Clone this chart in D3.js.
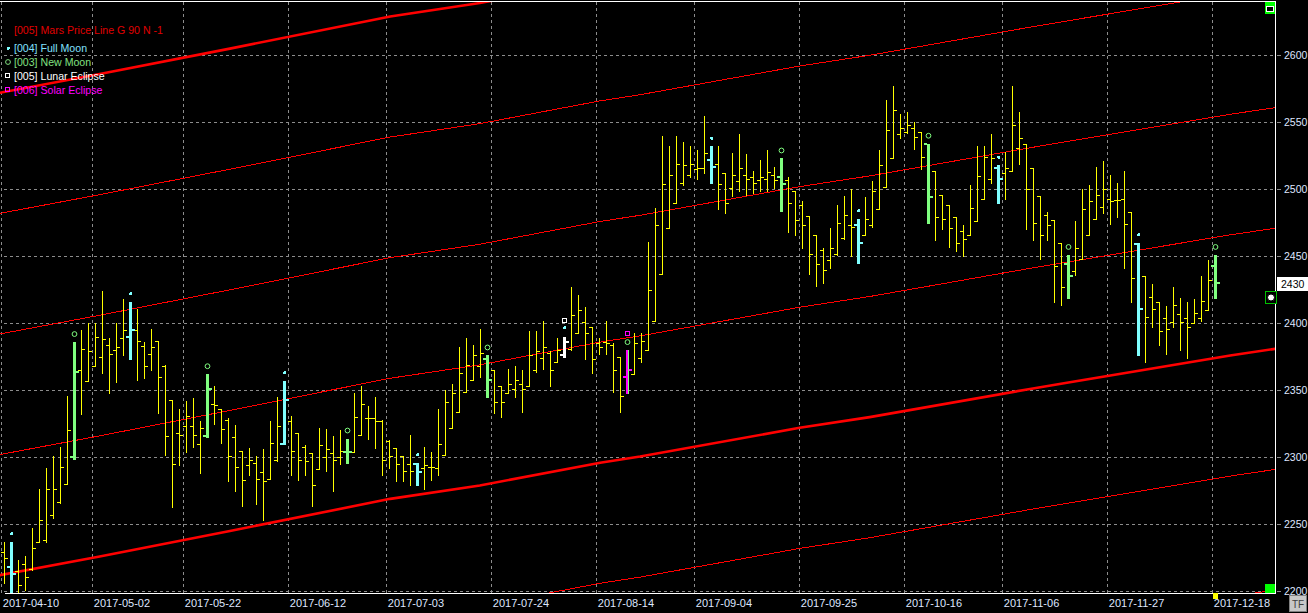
<!DOCTYPE html>
<html><head><meta charset="utf-8">
<script src="https://cdn.jsdelivr.net/npm/d3@7"></script>
<style>
html,body{margin:0;padding:0;background:#000;overflow:hidden;}
svg{display:block;}
text{font-family:"Liberation Sans",Arial,sans-serif;}
</style></head><body>
<svg id="c" width="1308" height="613"></svg>
<script>
// ---------- DATA ----------
const openP = [2229,2218,2215,2220,2217,2237,2238,2257,2267,2280,
2300,2365,2357,2368,2375,2384,2380,2389,2390,2395,
2383,2377,2387,2368,2343,2318,2323,2323,2310,2316,
2340,2336,2328,2315,2305,2294,2296,2289,2284,2298,
2310,2327,2318,2308,2303,2291,2300,2303,2300,2304,
2304,2317,2329,2329,2327,2312,2307,2301,2295,2295,
2292,2293,2292,2302,2322,2334,2349,2358,2368,2373,
2365,2353,2348,2351,2355,2353,2365,2374,2378,2371,
2376,2381,2393,2401,2397,2385,2386,2384,2375,2360,
2362,2374,2380,2402,2437,2471,2490,2505,2511,2515,
2516,2522,2519,2512,2501,2506,2511,2509,2507,2508,
2511,2509,2507,2499,2488,2480,2466,2455,2447,2452,
2464,2473,2473,2466,2473,2485,2502,2523,2541,2543,
2546,2543,2534,2514,2496,2488,2479,2469,2466,2476,
2493,2508,2516,2512,2514,2531,2534,2516,2495,2481,
2477,2460,2444,2439,2448,2466,2478,2487,2493,2492,
2493,2483,2459,2435,2420,2416,2404,2401,2407,2404,
2400,2404,2410,2443];
const highP = [2237,2237,2223,2226,2247,2276,2292,2301,2308,2346,
2386,2395,2400,2400,2424,2389,2400,2418,2416,2411,
2386,2396,2387,2369,2343,2336,2342,2344,2327,2362,
2353,2336,2329,2324,2305,2307,2301,2306,2327,2345,
2357,2331,2318,2309,2303,2322,2321,2316,2320,2314,
2348,2353,2338,2345,2328,2313,2307,2301,2317,2296,
2308,2304,2336,2350,2355,2382,2389,2384,2396,2376,
2365,2353,2366,2368,2365,2394,2394,2402,2379,2389,
2390,2427,2421,2412,2397,2389,2402,2385,2375,2380,
2393,2393,2461,2486,2540,2532,2540,2535,2532,2529,
2555,2532,2532,2512,2527,2541,2526,2514,2522,2529,
2517,2523,2509,2499,2491,2480,2466,2456,2471,2488,
2495,2500,2478,2494,2506,2529,2567,2577,2556,2558,
2550,2543,2534,2514,2496,2488,2479,2473,2503,2532,
2532,2541,2518,2528,2577,2558,2534,2516,2495,2483,
2477,2460,2451,2476,2500,2503,2517,2521,2511,2505,
2514,2483,2460,2435,2429,2416,2413,2427,2419,2416,
2418,2435,2447,2451];
const lowP = [2206,2196,2197,2201,2216,2237,2237,2255,2266,2280,
2299,2332,2357,2368,2363,2348,2356,2376,2373,2358,
2359,2365,2333,2302,2263,2294,2304,2308,2288,2315,
2325,2311,2282,2275,2264,2287,2265,2253,2284,2297,
2310,2287,2283,2287,2264,2291,2290,2275,2295,2296,
2304,2317,2314,2307,2287,2292,2282,2282,2279,2279,
2276,2283,2287,2302,2322,2334,2349,2358,2360,2345,
2333,2330,2348,2345,2334,2353,2364,2366,2353,2371,
2375,2380,2393,2373,2363,2377,2377,2349,2334,2348,
2362,2371,2380,2402,2437,2471,2490,2503,2509,2508,
2512,2505,2485,2482,2495,2499,2496,2497,2499,2499,
2501,2484,2468,2466,2456,2437,2428,2430,2441,2451,
2463,2450,2445,2466,2472,2485,2502,2523,2538,2542,
2530,2515,2475,2462,2470,2457,2454,2450,2466,2476,
2493,2505,2490,2493,2514,2519,2470,2462,2448,2462,
2416,2414,2419,2436,2448,2466,2478,2482,2474,2479,
2441,2416,2376,2371,2397,2384,2377,2397,2380,2374,
2400,2402,2410,2419];
const closeP = [2225,2213,2205,2211,2232,2253,2276,2276,2293,2320,
2364,2381,2379,2390,2388,2377,2382,2395,2395,2387,
2368,2382,2360,2316,2295,2317,2331,2317,2322,2351,
2339,2321,2301,2293,2283,2298,2284,2282,2311,2323,
2343,2305,2298,2297,2279,2309,2306,2298,2305,2304,
2330,2340,2329,2327,2298,2301,2295,2290,2290,2289,
2294,2293,2310,2341,2348,2363,2369,2376,2378,2358,
2341,2341,2355,2358,2351,2376,2379,2382,2365,2380,
2386,2406,2410,2393,2373,2382,2385,2365,2346,2365,
2385,2387,2425,2473,2504,2511,2519,2518,2519,2516,
2527,2517,2504,2490,2511,2516,2508,2505,2509,2513,
2507,2504,2490,2477,2473,2452,2444,2440,2456,2475,
2481,2472,2460,2478,2499,2518,2544,2559,2546,2548,
2539,2524,2494,2479,2478,2471,2460,2463,2486,2510,
2524,2523,2508,2516,2548,2538,2500,2475,2466,2473,
2443,2427,2435,2456,2485,2491,2496,2500,2491,2492,
2474,2434,2411,2405,2411,2394,2396,2414,2401,2397,
2408,2417,2432,2430];

// event bars (bar index)
const fullMoon = [1,18,40,59,80,101,122,142,162];
const newMoon = [10,29,49,69,89,111,132,152,173];
const lunarEclipse = [80];
const solarEclipse = [89];

// x axis ticks (bar index of first bar of the labelled date)
const tickIdx = [0,13,26,41,55,70,85,99,114,129,143,158,173];
const tickLabels = ["2017-04-10","2017-05-02","2017-05-22","2017-06-12","2017-07-03","2017-07-24",
  "2017-08-14","2017-09-04","2017-09-25","2017-10-16","2017-11-06","2017-11-27","2017-12-18"];
const yTicks = [2200,2250,2300,2350,2400,2450,2500,2550,2600];

// Mars price line (base harmonic) read at bar positions
const marsIdx = [-0.7,13.6,32.2,55.1,67.9,85.1,90.8,113.6,123.6,146.5,152.2,175.1,181.6];
const marsVal = [2212,2226,2245,2269,2279,2296,2300.6,2322,2330,2351,2356,2376,2381];
const marsHarmonics = [-180,-90,0,90,180,270,360,450];
const marsThick = [0,360];

const lastPrice = 2430;
const legendLabels = ["[005] Mars Price Line G 90 N -1","[004] Full Moon","[003] New Moon","[005] Lunar Eclipse","[006] Solar Eclipse"];

// ---------- DRAW ----------
const W=1308, H=613, L=4, R=1275, T=2, B=593;
const svg = d3.select("#c");
const n = openP.length;
const x = d3.scaleLinear().domain([0,173]).range([4.5,1215.5]);
const xg = x.copy().range([x(0)-3.2, x(173)-3.2]);
const y = d3.scaleLinear().domain([2200,2600]).range([591.3,55.3]);
const py = v => Math.round(y(v)) + 0.5;

svg.append("rect").attr("width",W).attr("height",H).attr("fill","#000");
svg.append("defs").append("clipPath").attr("id","pc")
  .append("rect").attr("x",0).attr("y",T).attr("width",R).attr("height",B-T);

const COL = {yellow:"#ffff00", cyan:"#80ffff", green:"#80ff80", white:"#ffffff", magenta:"#ff00ff", red:"#ff0000", grid:"#8c8c8c", axis:"#dfe6ff"};

// grid
const grid = svg.append("g").attr("stroke",COL.grid).attr("stroke-dasharray","3,3").attr("shape-rendering","crispEdges");
yTicks.forEach(v => grid.append("line").attr("x1",L).attr("x2",R).attr("y1",py(v)).attr("y2",py(v)));
tickIdx.forEach(d => { const gx = Math.round(xg(d))+0.5;
  grid.append("line").attr("x1",gx).attr("x2",gx).attr("y1",T).attr("y2",B); });

const plot = svg.append("g").attr("clip-path","url(#pc)");

// Mars lines
const lineGen = d3.line().x(d=>x(d[0])).y(d=>y(d[1]));
marsHarmonics.forEach(h => {
  const pts = marsIdx.map((d,j)=>[d, marsVal[j]+h]);
  const thick = marsThick.includes(h);
  plot.append("path").attr("d",lineGen(pts)).attr("fill","none")
    .attr("stroke",COL.red).attr("stroke-width",thick?2.6:1)
    .attr("shape-rendering", thick ? "auto" : "crispEdges");
});

// price bars
const special = new Set([...fullMoon,...newMoon,...lunarEclipse,...solarEclipse]);
const bars = plot.append("g").attr("shape-rendering","crispEdges");
d3.range(n).filter(i=>!special.has(i)).forEach(i => {
  const cx = x(i);
  bars.append("path").attr("fill","none").attr("stroke",COL.yellow).attr("stroke-width",1)
    .attr("d",`M${cx},${py(highP[i])-0.5}V${py(lowP[i])+0.5}M${cx-3.5},${py(openP[i])}H${cx}M${cx},${py(closeP[i])}H${cx+3.5}`);
});

function eventBar(i, color, sub){
  const cx = x(i);
  const g = plot.append("g").attr("shape-rendering","crispEdges");
  const yH = Math.round(y(highP[i])), yL = Math.round(y(lowP[i]));
  if(sub){ g.append("rect").attr("x",cx-1.5).attr("y",yH).attr("width",3).attr("height",yL-yH+1).attr("fill",sub); 
    g.append("rect").attr("x",cx-1.5).attr("y",yH).attr("width",2).attr("height",yL-yH+1).attr("fill",color); }
  else g.append("rect").attr("x",cx-1.5).attr("y",yH).attr("width",3).attr("height",yL-yH+1).attr("fill",color);
  g.append("rect").attr("x",cx-4.5).attr("y",Math.round(y(openP[i]))-1).attr("width",3).attr("height",2).attr("fill",color);
  g.append("rect").attr("x",cx+1.5).attr("y",Math.round(y(closeP[i]))-1).attr("width",3).attr("height",2).attr("fill",color);
}
function dot(cx,cy,color,parent){
  const p = parent || plot;
  p.append("rect").attr("x",cx-1.5).attr("y",cy-1).attr("width",3).attr("height",2).attr("fill",color).attr("shape-rendering","crispEdges");
  p.append("rect").attr("x",cx-1).attr("y",cy-1.5).attr("width",2).attr("height",3).attr("fill",color).attr("shape-rendering","crispEdges");
}
function ring(cx,cy,color){
  plot.append("circle").attr("cx",cx).attr("cy",cy).attr("r",2.4).attr("fill","none").attr("stroke",color).attr("stroke-width",1);
}
function square(cx,cy,color){
  plot.append("rect").attr("x",Math.round(cx)-2.5).attr("y",Math.round(cy)-2.5).attr("width",4).attr("height",4)
    .attr("fill","none").attr("stroke",color).attr("stroke-width",1).attr("shape-rendering","crispEdges");
}

fullMoon.filter(i=>!lunarEclipse.includes(i)).forEach(i => { eventBar(i, COL.cyan); dot(x(i), y(highP[i])-8, COL.cyan); });
newMoon.filter(i=>!solarEclipse.includes(i)).forEach(i => { eventBar(i, COL.green); ring(x(i), y(highP[i])-8, COL.green); });
lunarEclipse.forEach(i => { eventBar(i, COL.white); dot(x(i), y(highP[i])-9, COL.cyan); square(x(i), y(highP[i])-16, COL.white); });
solarEclipse.forEach(i => { eventBar(i, COL.magenta, COL.green); ring(x(i), y(highP[i])-8, COL.green); square(x(i), y(highP[i])-16, COL.magenta); });

// frame
const fr = svg.append("g").attr("stroke","#fff").attr("stroke-width",1).attr("shape-rendering","crispEdges");
fr.append("line").attr("x1",0).attr("x2",R+0.5).attr("y1",1.5).attr("y2",1.5);
fr.append("line").attr("x1",4.5).attr("x2",R+0.5).attr("y1",B+0.5).attr("y2",B+0.5);
fr.append("line").attr("x1",R+0.5).attr("x2",R+0.5).attr("y1",1).attr("y2",B+1);

// legend
const legColors = ["#e00000","#80e0ff","#80e080","#ffffff","#ff00ff"];
const legY = [33.5,51.5,65.5,79.5,93.5];
legendLabels.forEach((t,k) => svg.append("text").attr("x",14).attr("y",legY[k]).attr("fill",legColors[k])
  .attr("font-size","10.6px").text(t));
dot(8, 48, COL.cyan, svg);
svg.append("circle").attr("cx",8).attr("cy",62).attr("r",2.4).attr("fill","none").attr("stroke","#80e080");
svg.append("rect").attr("x",5.5).attr("y",73.5).attr("width",4).attr("height",4).attr("fill","none").attr("stroke","#fff").attr("shape-rendering","crispEdges");
svg.append("rect").attr("x",5.5).attr("y",87.5).attr("width",4).attr("height",4).attr("fill","none").attr("stroke","#ff00ff").attr("shape-rendering","crispEdges");

// right axis
const ya = svg.append("g").attr("transform",`translate(${R+2},0)`)
  .call(d3.axisRight(y).tickValues(yTicks).tickSize(4).tickPadding(3).tickFormat(d3.format("d")));
ya.select(".domain").remove();
ya.selectAll("line").attr("stroke",COL.grid).attr("shape-rendering","crispEdges");
ya.selectAll("text").attr("fill",COL.axis).attr("font-size","10.5px").attr("font-family","Liberation Sans, Arial");

// bottom axis
const xa = svg.append("g").attr("transform",`translate(0,${B})`)
  .call(d3.axisBottom(xg).tickValues(tickIdx).tickSize(0).tickPadding(6).tickFormat((d,k)=>tickLabels[k]));
xa.select(".domain").remove();
xa.selectAll("text").attr("fill",COL.axis).attr("font-size","11px").attr("font-family","Liberation Sans, Arial")
  .attr("text-anchor","start").attr("dx",1);

// last price label
svg.append("rect").attr("x",1277).attr("y",277).attr("width",31).attr("height",14).attr("fill","#fff");
svg.append("text").attr("x",1281).attr("y",288).attr("fill","#000").attr("font-size","10.5px").text(lastPrice);

// icons on the right edge
svg.append("rect").attr("x",1265.5).attr("y",291.5).attr("width",11).attr("height",12).attr("fill","#000").attr("stroke","#00c000").attr("shape-rendering","crispEdges");
svg.append("circle").attr("cx",1271).attr("cy",297.5).attr("r",3.5).attr("fill","#fff").attr("stroke","#000");
svg.append("rect").attr("x",1265).attr("y",2).attr("width",10).attr("height",12).attr("fill","#00ff00");
svg.append("rect").attr("x",1266.5).attr("y",6.5).attr("width",7).attr("height",5).attr("fill","#000").attr("stroke","#fff").attr("shape-rendering","crispEdges");
svg.append("rect").attr("x",1265).attr("y",584).attr("width",10).attr("height",9).attr("fill","#00ff00");
svg.append("rect").attr("x",x(173)-2.5).attr("y",593).attr("width",5).attr("height",6).attr("fill","#ffff00");

// TF box
svg.append("rect").attr("x",1289.5).attr("y",595.5).attr("width",17).attr("height",16).attr("fill","#c8c8c8").attr("stroke","#808080").attr("shape-rendering","crispEdges");
svg.append("text").attr("x",1298).attr("y",608).attr("text-anchor","middle").attr("fill","#404040").attr("font-size","10px").text("TF");
</script>
</body></html>
